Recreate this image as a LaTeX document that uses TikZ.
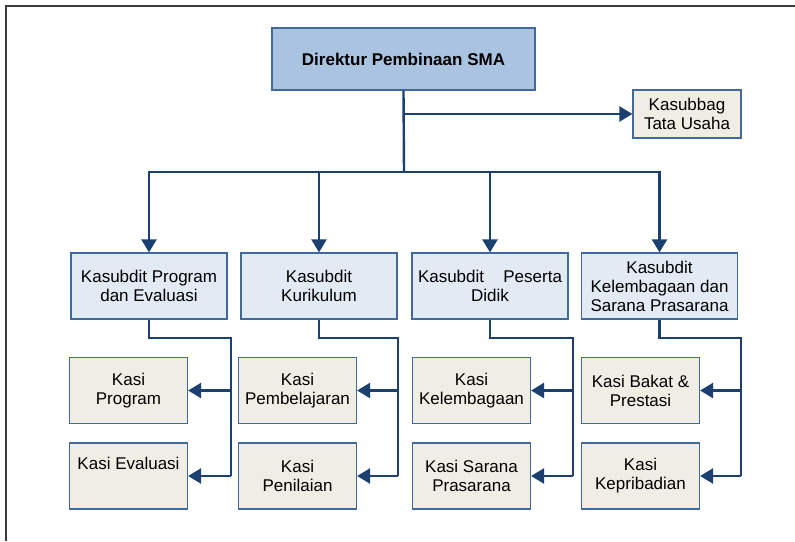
\documentclass[tikz,border=0pt]{standalone}
\usepackage{fontspec}
\setmainfont{Liberation Sans}
\usetikzlibrary{arrows.meta,calc}

\definecolor{linkblue}{HTML}{1B3F6E}
\definecolor{edgeblue}{HTML}{41699A}
\definecolor{headfill}{HTML}{A9C3E0}
\definecolor{subfill}{HTML}{E2EAF4}
\definecolor{secfill}{HTML}{EFEDE4}
\definecolor{framegray}{HTML}{3C3C3C}

\tikzset{
  x=1pt, y=-1pt,
  box/.style={draw=edgeblue, line width=1.2pt, inner sep=0pt, align=center,
    font=\fontsize{17}{19}\selectfont},
  headbox/.style={box, fill=headfill, minimum width=263pt, minimum height=62pt,
    font=\fontsize{17}{19}\selectfont\bfseries},
  tubox/.style={box, fill=secfill, minimum width=108pt, minimum height=48pt},
  subbox/.style={box, fill=subfill, minimum width=156pt, minimum height=66pt},
  secbox/.style={box, fill=secfill, minimum width=118pt, minimum height=66pt},
  link/.style={draw=linkblue, line width=2.4pt},
  arrowlink/.style={link, -{Triangle[length=13pt 0,width=15pt 0]}},
}

\begin{document}
\begin{tikzpicture}
\useasboundingbox (0,0) rectangle (795,541);
\fill[white] (0,0) rectangle (795,541);

% outer frame (top and left edges)
\draw[framegray, line width=1.6pt] (6,541) -- (6,6) -- (795,6);

% top level
\node[headbox] (dir) at (403.5,59) {Direktur Pembinaan SMA};
\node[tubox]   (tu)  at (687,114) {Kasubbag\\Tata Usaha};

% sub-directorates
\node[subbox] (sd1) at (149,286)   {Kasubdit Program\\dan Evaluasi};
\node[subbox] (sd2) at (319,286)   {Kasubdit\\Kurikulum};
\node[subbox] (sd3) at (490,286)   {\makebox[144pt][s]{Kasubdit\hfill Peserta}\\Didik};
\node[subbox] (sd4) at (659.5,286) {Kasubdit\\Kelembagaan dan\\Sarana Prasarana};

% sections
\node[secbox] (s11) at (128.5,390.5) {Kasi\\Program};
\node[secbox] (s12) at (128.5,476)   {Kasi Evaluasi\\[6pt]\mbox{}};
\node[secbox] (s21) at (297.5,390.5) {Kasi\\Pembelajaran};
\node[secbox] (s22) at (297.5,476)   {Kasi\\Penilaian};
\node[secbox] (s31) at (471.5,390.5) {Kasi\\Kelembagaan};
\node[secbox] (s32) at (471.5,476)   {Kasi Sarana\\Prasarana};
\node[secbox] (s41) at (640.5,390.5) {Kasi Bakat \&\\Prestasi};
\node[secbox] (s42) at (640.5,476)   {Kasi\\Kepribadian};

% director to administration and sub-directorates
\coordinate (bus) at (404,172);
\draw[link] (dir.south) -- (bus);
\draw[arrowlink] (dir.south |- tu.west) -- (tu.west);
\draw[arrowlink] (bus) -| (sd1.north);
\draw[arrowlink] (bus) -| (sd2.north);
\draw[arrowlink] (bus) -| (sd3.north);
\draw[arrowlink] (bus) -| (sd4.north);

% sub-directorates to sections
\foreach \g/\bx in {1/231, 2/398, 3/573, 4/741} {
  \coordinate (b\g) at (\bx,338);
  \draw[link] (sd\g.south) |- (b\g) -- (b\g |- s\g2.east);
  \draw[arrowlink] (b\g |- s\g1.east) -- (s\g1.east);
  \draw[arrowlink] (b\g |- s\g2.east) -- (s\g2.east);
}
\end{tikzpicture}
\end{document}
